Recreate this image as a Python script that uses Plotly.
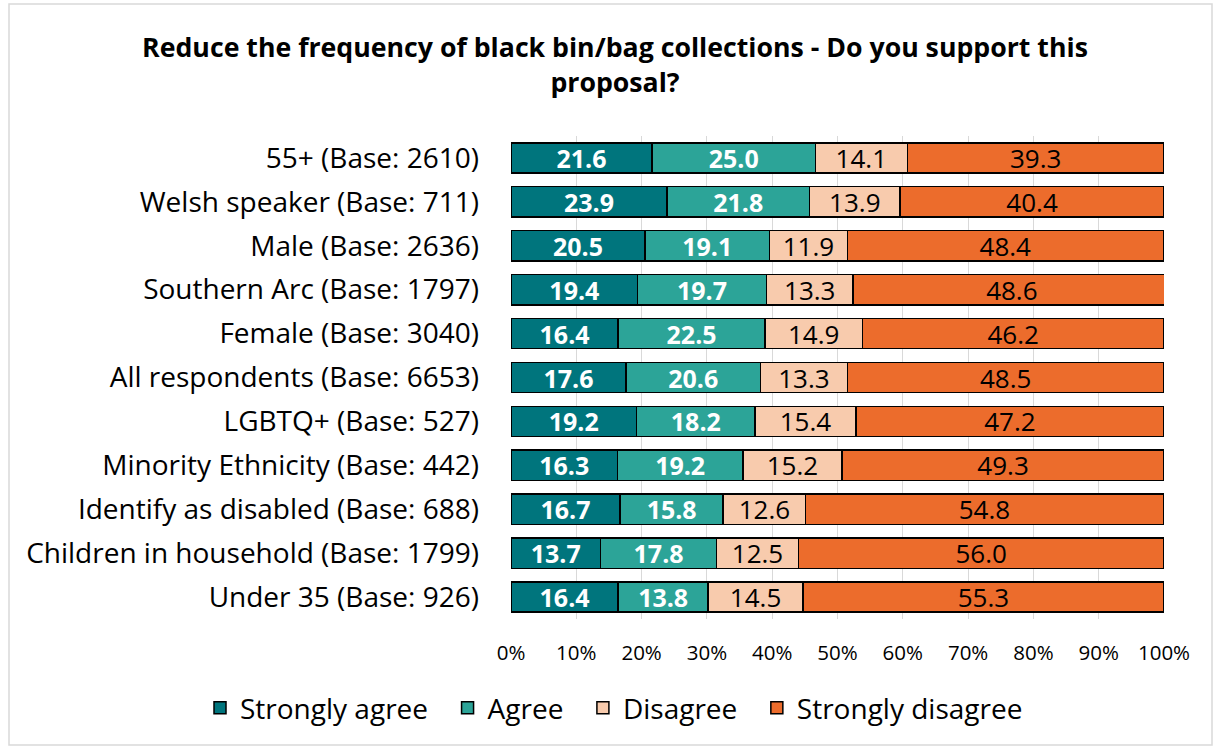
import plotly.graph_objects as go

categories = ["55+ (Base: 2610)", "Welsh speaker (Base: 711)", "Male (Base: 2636)",
              "Southern Arc (Base: 1797)", "Female (Base: 3040)", "All respondents (Base: 6653)",
              "LGBTQ+ (Base: 527)", "Minority Ethnicity (Base: 442)", "Identify as disabled (Base: 688)",
              "Children in household (Base: 1799)", "Under 35 (Base: 926)"]
strongly_agree = [21.6, 23.9, 20.5, 19.4, 16.4, 17.6, 19.2, 16.3, 16.7, 13.7, 16.4]
agree = [25.0, 21.8, 19.1, 19.7, 22.5, 20.6, 18.2, 19.2, 15.8, 17.8, 13.8]
disagree = [14.1, 13.9, 11.9, 13.3, 14.9, 13.3, 15.4, 15.2, 12.6, 12.5, 14.5]
strongly_disagree = [39.3, 40.4, 48.4, 48.6, 46.2, 48.5, 47.2, 49.3, 54.8, 56.0, 55.3]
tick_vals = [0, 10, 20, 30, 40, 50, 60, 70, 80, 90, 100]
tick_text = [f"{v}%" for v in tick_vals]

series = [
    ("Strongly agree", strongly_agree, "#00757D", "white"),
    ("Agree", agree, "#2CA498", "white"),
    ("Disagree", disagree, "#F8CBAD", "black"),
    ("Strongly disagree", strongly_disagree, "#EC6C2C", "black"),
]

FONT = "Open Sans"
PAD = "\u00a0\u00a0"
fig = go.Figure()
for name, vals, color, tcolor in series:
    fig.add_trace(go.Bar(
        name=name + PAD, y=categories, x=vals, orientation="h",
        marker=dict(color=color, line=dict(color="black", width=1.5)),
        text=[f"{v:.1f}" for v in vals], textposition="inside",
        insidetextanchor="middle", textangle=0, constraintext="none",
        textfont=dict(color=tcolor, size=25 if tcolor == "white" else 26, family=FONT,
                      weight="bold" if tcolor == "white" else "normal"),
        hoverinfo="skip",
    ))

W, H = 1215, 747
L, R, T, B = 511, 51, 136, 128
pw, ph = W - L - R, H - T - B

def px(x):
    return (x - L) / pw

def py(y):
    return (H - B - y) / ph

fig.update_layout(
    width=W, height=H, barmode="stack", bargap=0.31,
    margin=dict(l=L, r=R, t=T, b=B, autoexpand=False),
    paper_bgcolor="white", plot_bgcolor="white",
    font=dict(family=FONT, color="black"),
    title=dict(text="<b>Reduce the frequency of black bin/bag collections - Do you support this<br>proposal?</b>",
               x=615 / W, xanchor="center", y=1 - 57 / H, yanchor="middle",
               font=dict(size=26.7, family=FONT, color="black")),
    xaxis=dict(range=[0, 100], tickvals=tick_vals, ticktext=tick_text, showgrid=True,
               gridcolor="#D9D9D9", gridwidth=1, zeroline=False, showline=False,
               tickfont=dict(size=20.5, family=FONT), ticks="", ticklabelstandoff=19),
    yaxis=dict(autorange="reversed", tickfont=dict(size=28, family=FONT), ticks="",
               showline=False, ticklabelstandoff=31),
    legend=dict(orientation="h", x=px(200), xanchor="left",
                y=py(708), yanchor="middle",
                font=dict(size=28, family=FONT), traceorder="normal", itemwidth=30,
                bgcolor="rgba(0,0,0,0)"),
    shapes=[dict(type="rect", xref="paper", yref="paper", x0=px(9), x1=px(1212), y0=py(745), y1=py(4),
                 line=dict(color="#D9D9D9", width=1.5), fillcolor="rgba(0,0,0,0)", layer="below")],
)

fig.write_html("out.html", post_script="document.body.style.margin='0';",
               config={"displayModeBar": False})
